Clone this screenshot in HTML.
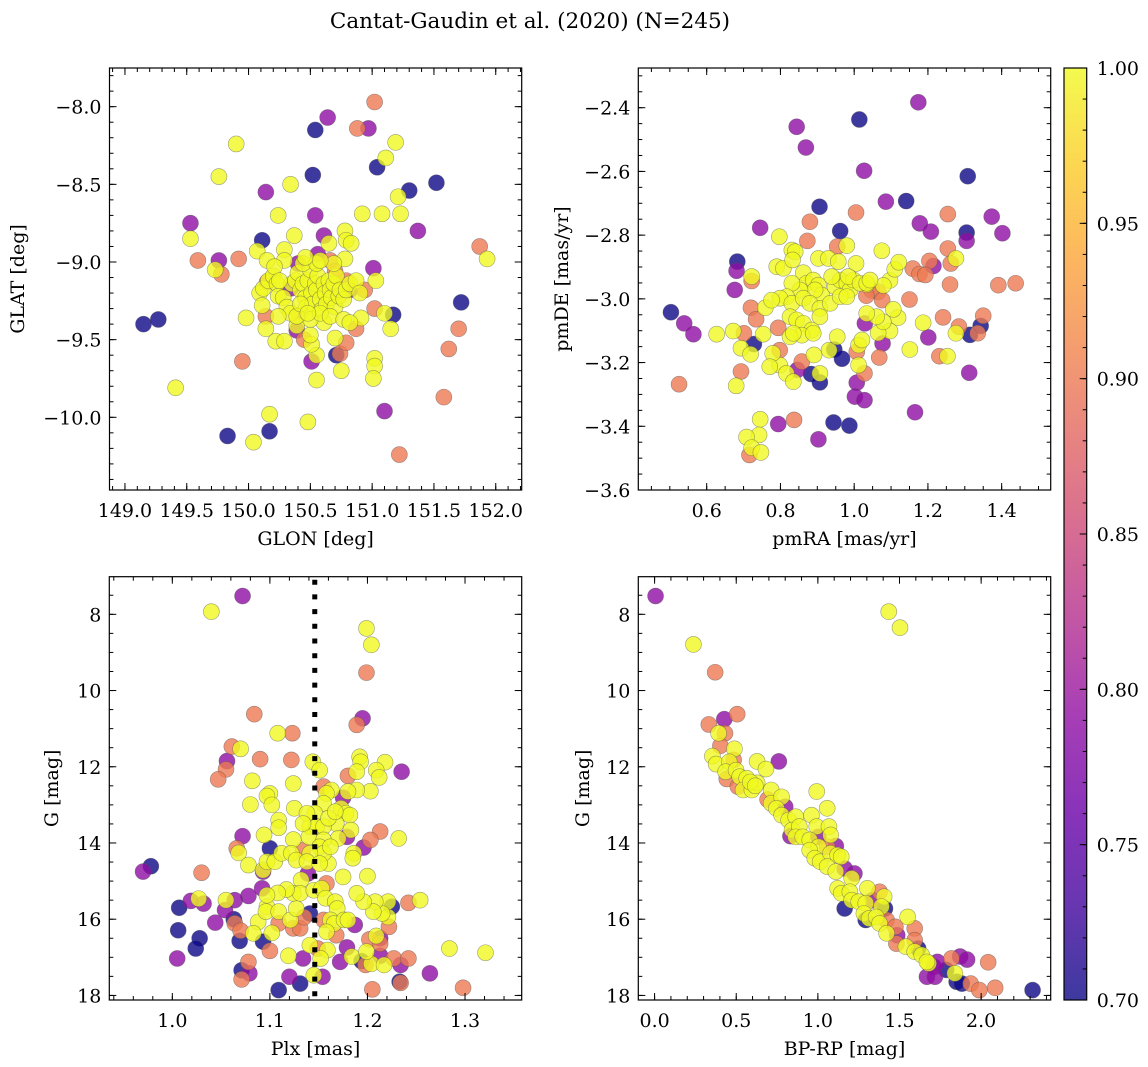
<!DOCTYPE html>
<html><head><meta charset="utf-8">
<style>
html,body{margin:0;padding:0;background:#fff;}
svg{display:block;font-family:"DejaVu Serif","Liberation Serif",serif;}
</style></head>
<body>
<svg id="fig" width="1148" height="1067" viewBox="0 0 1148 1067" xmlns="http://www.w3.org/2000/svg">
<defs>
<linearGradient id="plasmaGrad" x1="0" y1="1" x2="0" y2="0">
<stop offset="0" stop-color="#0d0887"/><stop offset="0.1" stop-color="#41049d"/><stop offset="0.2" stop-color="#6a00a8"/><stop offset="0.3" stop-color="#8f0da4"/><stop offset="0.4" stop-color="#b12a90"/><stop offset="0.5" stop-color="#cc4778"/><stop offset="0.6" stop-color="#e16462"/><stop offset="0.7" stop-color="#f2844b"/><stop offset="0.8" stop-color="#fca636"/><stop offset="0.9" stop-color="#fcce25"/><stop offset="1" stop-color="#f0f921"/>
</linearGradient>
</defs>
<text x="530" y="28" font-size="21.5" text-anchor="middle">Cantat-Gaudin et al. (2020) (N=245)</text>
</svg>
<script>
// ---------- Panel 1: GLON / GLAT ----------
const glon = [151.02,150.64,150.54,150.88,150.97,151.19,149.90,151.11,151.04,149.76,150.52,151.52,150.34,151.30,150.14,151.21,150.24,150.54,150.92,151.08,151.23,149.53,151.37,149.53,150.11,150.37,150.61,150.78,150.79,150.83,150.65,151.87,151.93,149.59,149.76,149.92,149.73,149.78,150.07,150.29,150.29,150.15,150.78,151.01,151.03,151.72,149.15,149.27,149.98,149.95,149.41,151.70,151.62,151.58,151.17,151.15,151.10,151.02,150.91,150.87,151.02,151.02,151.01,150.75,150.71,150.74,150.70,150.55,150.51,150.55,150.51,150.50,150.22,150.29,150.39,150.39,150.14,150.14,150.17,150.17,149.83,150.04,150.48,151.10,151.22,150.45,150.79,
150.09,150.12,150.11,150.16,150.20,150.23,150.24,150.28,150.31,150.34,150.35,150.38,150.40,150.42,150.44,150.46,150.47,150.48,150.50,150.51,150.52,150.54,150.55,150.56,150.58,150.59,150.61,150.62,150.63,150.65,150.66,150.67,150.69,150.70,150.71,150.73,150.74,150.77,150.79,150.82,150.87,150.90,150.61,150.50,150.39,150.24,150.58,150.66,150.77,150.82,150.44,150.55,150.69,150.46,150.58,150.21,150.25,150.42,150.48,
150.40,150.56,150.66,150.70,150.79,150.82,150.94,150.15,150.34,150.41];
const glat = [-7.97,-8.07,-8.15,-8.14,-8.14,-8.23,-8.24,-8.33,-8.39,-8.45,-8.44,-8.49,-8.50,-8.54,-8.55,-8.58,-8.70,-8.70,-8.69,-8.69,-8.69,-8.75,-8.80,-8.85,-8.86,-8.83,-8.83,-8.80,-8.86,-8.88,-8.88,-8.90,-8.98,-8.99,-8.99,-8.98,-9.05,-9.08,-8.93,-8.92,-8.99,-8.99,-8.98,-9.04,-9.12,-9.26,-9.40,-9.37,-9.36,-9.64,-9.81,-9.43,-9.56,-9.87,-9.34,-9.43,-9.33,-9.30,-9.36,-9.43,-9.62,-9.67,-9.75,-9.70,-9.60,-9.59,-9.49,-9.76,-9.64,-9.60,-9.53,-9.47,-9.51,-9.51,-9.44,-9.41,-9.43,-9.35,-9.98,-10.09,-10.12,-10.16,-10.03,-9.96,-10.24,-9.50,-9.52,
-9.20,-9.17,-9.28,-9.12,-9.09,-9.14,-9.22,-9.23,-9.29,-9.33,-9.14,-9.12,-9.07,-9.18,-9.14,-9.23,-9.29,-9.12,-9.05,-9.20,-9.27,-9.14,-9.18,-9.09,-9.24,-9.31,-9.14,-9.20,-9.27,-9.12,-9.18,-9.23,-9.14,-9.29,-9.09,-9.22,-9.18,-9.24,-9.18,-9.14,-9.12,-9.20,-9.39,-9.37,-9.35,-9.35,-9.33,-9.35,-9.37,-9.39,-9.01,-9.01,-9.01,-8.97,-8.99,-9.03,-9.12,-9.27,-9.33,
-9.01,-8.95,-8.99,-9.06,-9.12,-9.18,-9.18,-9.13,-9.17,-9.34];
const probGal = [0.9,0.79,0.7,0.9,0.79,1,1,1,0.7,1,0.7,0.7,1,0.7,0.79,1,1,0.79,1,1,1,0.79,0.79,1,0.7,1,0.79,1,1,1,1,0.9,1,0.9,0.79,0.9,1,0.9,1,1,1,1,1,0.79,1,0.7,0.7,0.7,1,0.9,1,0.9,0.9,0.9,0.7,1,1,0.9,1,0.9,1,1,1,1,0.7,0.9,1,1,0.79,1,1,1,1,1,0.79,1,1,0.9,1,0.7,0.7,1,1,0.79,0.9,0.9,0.9,
1,1,1,1,1,1,1,1,1,1,1,1,1,1,1,1,1,1,1,1,1,1,1,1,1,1,1,1,1,1,1,1,1,1,1,1,1,1,1,1,1,1,1,1,1,1,1,1,1,1,1,1,1,1,1,1,1,1,1,
0.79,0.79,0.9,0.9,0.9,0.79,0.9,0.9,0.79,0.9];

// ---------- Panel 2: pmRA / pmDE ----------
const pmra = [1.174,1.014,0.844,0.869,1.027,1.308,0.906,1.086,1.141,1.005,1.254,1.373,0.880,0.745,0.962,1.178,1.208,1.305,1.402,1.305,0.797,0.980,0.873,0.954,1.254,1.276,1.262,1.204,1.215,0.683,0.681,0.676,0.503,0.539,0.564,0.525,0.627,0.672,0.701,0.728,0.693,0.680,0.693,0.719,0.722,0.722,0.720,0.734,0.745,0.742,0.708,0.722,0.716,0.747,0.794,0.837,0.903,0.944,0.987,0.883,0.907,0.946,0.967,1.007,1.002,1.028,1.165,1.312,1.151,1.201,1.187,1.231,1.253,1.241,1.276,1.284,1.314,1.343,1.350,1.335,1.391,1.438,1.150,1.159,1.177,1.193,1.260,1.068,1.007,1.028,1.012,1.077,1.029,0.794,0.798,0.858,0.846,0.798,0.816,0.835,0.907,0.932,0.954,0.891,0.779,0.771,0.753,0.759,1.012,1.021,1.119,1.097,1.065,1.079,1.061,1.034,1.106,1.097,1.110,1.121,1.079,1.075,1.005,1.034,1.065,1.047,1.076,1.033,
0.790,0.808,0.831,0.840,0.833,0.862,0.871,0.889,0.903,0.912,0.894,0.853,0.831,0.817,0.799,0.776,0.831,0.862,0.880,0.907,0.935,0.948,0.962,0.980,0.989,0.998,0.962,0.980,0.826,0.844,0.862,0.885,0.858,0.826,0.889,0.907,0.903,0.930,0.957,0.939,0.984,1.016,1.034,1.043,0.835];
const pmde = [-2.383,-2.437,-2.46,-2.525,-2.598,-2.615,-2.711,-2.695,-2.693,-2.729,-2.734,-2.742,-2.758,-2.777,-2.787,-2.763,-2.789,-2.792,-2.794,-2.818,-2.805,-2.833,-2.818,-2.836,-2.842,-2.873,-2.889,-2.881,-2.897,-2.883,-2.912,-2.972,-3.042,-3.077,-3.111,-3.268,-3.111,-3.101,-3.108,-3.142,-3.228,-3.273,-3.155,-3.174,-2.930,-2.944,-3.028,-3.064,-3.378,-3.427,-3.434,-3.467,-3.49,-3.482,-3.393,-3.38,-3.441,-3.388,-3.398,-3.236,-3.262,-3.159,-3.188,-3.263,-3.307,-3.318,-3.356,-3.232,-3.159,-3.121,-3.075,-3.18,-3.18,-3.058,-3.108,-3.087,-3.113,-3.085,-3.053,-3.108,-2.957,-2.951,-3.002,-2.905,-2.922,-2.925,-2.955,-3.184,-3.166,-3.234,-3.208,-3.140,-3.077,-3.091,-3.161,-3.197,-3.223,-3.208,-3.234,-3.26,-3.234,-3.161,-3.119,-3.176,-3.171,-3.213,-3.111,-3.028,-3.145,-3.129,-3.059,-3.101,-3.107,-3.072,-3.056,-3.046,-3.033,-2.942,-2.907,-2.885,-2.958,-2.849,-2.889,-2.955,-2.978,-2.973,-3.004,-2.99,
-2.899,-2.904,-2.847,-2.852,-2.878,-2.918,-2.951,-2.941,-2.957,-2.988,-2.972,-2.972,-2.951,-2.993,-2.998,-3.004,-3.014,-2.998,-3.014,-3.030,-3.014,-2.962,-2.941,-2.951,-2.972,-2.941,-2.993,-2.993,-3.056,-3.066,-3.077,-3.098,-3.114,-3.119,-3.108,-3.056,-2.873,-2.873,-2.883,-2.930,-2.930,-2.951,-2.951,-2.941,-3.108];
const probPm = [0.79,0.7,0.79,0.79,0.79,0.7,0.7,0.79,0.7,0.9,0.9,0.79,0.9,0.79,0.7,0.79,0.79,0.7,0.79,0.79,1,1,0.9,0.9,0.9,1,0.9,0.9,0.79,0.7,0.79,0.79,0.7,0.79,0.79,0.9,1,1,0.9,0.7,0.9,1,1,1,1,0.9,0.9,0.9,1,1,1,1,0.9,1,0.79,0.9,0.79,0.7,0.7,0.7,0.7,0.7,0.7,0.79,0.79,0.79,0.79,0.79,1,0.79,1,0.9,1,0.9,1,0.9,0.7,0.7,0.9,0.9,0.9,0.9,0.9,0.9,0.9,0.9,0.9,0.9,0.9,0.9,1,0.79,0.79,0.9,0.9,0.9,0.79,1,1,1,1,1,1,1,1,1,1,1,1,1,1,1,1,1,1,1,1,1,1,1,1,1,1,1,0.9,0.9,0.9,0.9,
1,1,1,1,1,1,1,1,1,1,1,1,1,1,1,1,1,1,1,1,1,1,1,1,1,1,1,1,1,1,1,1,1,1,1,1,1,1,1,1,1,1,1,1,1];

// ---------- Panel 3: Plx / G ----------
const plx = [1.072,1.040,1.199,1.204,1.199,1.195,1.084,1.189,1.108,1.123,1.061,1.070,1.090,1.122,1.056,1.055,1.047,1.082,1.124,1.144,1.151,1.192,1.193,1.189,1.180,1.218,1.209,1.212,1.235,1.203,1.189,1.180,1.175,1.163,1.155,1.158,1.100,1.097,1.102,1.080,1.125,1.155,1.173,1.178,1.182,1.168,1.183,1.179,1.170,1.213,1.203,1.196,1.232,1.109,1.109,1.094,1.072,1.124,1.100,1.066,1.068,1.078,1.093,1.093,1.097,1.105,1.112,1.122,1.127,1.134,1.186,1.185,1.200,1.175,1.160,1.158,1.139,1.132,
0.978,0.970,1.030,1.092,1.078,1.064,1.055,1.054,1.032,1.027,1.019,1.007,1.006,1.028,1.024,1.005,1.044,1.063,1.064,1.070,1.069,1.093,1.100,1.078,1.071,1.071,1.079,1.088,1.083,1.097,1.096,1.109,1.102,1.109,1.119,1.120,1.131,1.109,1.134,1.121,1.124,1.131,1.135,1.127,1.141,1.124,1.131,1.117,1.108,1.097,1.145,1.153,1.157,1.167,1.169,1.155,1.162,1.166,1.158,1.168,1.176,1.187,1.180,1.141,1.149,1.159,1.152,1.145,1.154,1.179,1.172,1.184,1.194,1.198,1.204,1.199,1.202,1.209,1.213,1.213,1.213,1.217,1.227,1.242,1.234,1.233,1.234,1.205,1.264,1.298,1.284,1.321,1.254,1.242,1.222,1.221,1.225,1.221,1.215,1.208,1.206,1.196,1.189,
1.146,1.141,1.148,1.155,1.138,1.140,1.155,1.151,1.155,1.141,1.138,1.151,1.160,1.167,1.134,1.162];
const gPlx = [7.52,7.93,8.37,8.80,9.53,10.73,10.62,10.90,11.12,11.12,11.47,11.53,11.80,11.82,11.85,12.07,12.33,12.37,12.44,11.87,12.09,11.74,11.87,12.13,12.24,11.88,12.09,12.28,12.13,12.64,12.61,12.65,12.81,12.61,12.52,12.70,12.70,12.77,13.00,12.99,13.09,12.96,13.09,13.22,13.27,13.49,13.66,13.84,13.88,13.70,13.92,14.12,13.88,13.40,13.60,13.79,13.82,13.91,14.14,14.14,14.26,14.58,14.71,14.75,14.49,14.49,14.27,14.27,14.45,14.19,14.27,14.40,14.87,14.89,14.54,15.06,14.80,14.97,
14.61,14.75,14.78,15.19,15.39,15.50,15.50,15.76,15.59,15.46,15.52,15.70,16.29,16.50,16.77,17.03,16.09,16.00,16.11,16.30,16.57,16.59,16.83,17.12,17.34,17.58,17.42,16.07,16.37,15.67,15.80,15.80,16.36,16.11,16.96,17.51,17.69,17.86,17.03,16.02,16.24,16.24,15.95,15.72,15.85,15.32,15.32,15.22,15.31,15.37,15.24,15.19,15.45,15.54,15.72,16.02,16.02,16.11,16.33,16.42,16.02,16.15,16.02,16.68,16.77,16.81,17.03,17.47,17.51,16.74,17.12,16.98,17.10,17.20,17.17,16.85,16.53,16.44,16.50,16.64,16.96,17.20,17.03,17.03,17.20,17.64,17.67,17.84,17.42,17.80,16.77,16.88,15.50,15.57,16.20,15.94,15.67,15.54,15.85,15.54,15.80,15.54,15.32,
13.22,13.57,13.57,13.57,13.22,13.84,13.92,14.10,14.27,14.27,14.49,14.54,13.35,13.18,13.49,14.10];
const probPlx = [0.79,1,1,1,0.9,0.79,0.9,0.9,1,0.9,0.9,1,0.9,0.9,0.79,0.9,0.9,1,1,1,1,1,1,1,0.9,1,1,1,0.79,1,1,1,0.79,1,0.9,1,1,1,1,1,1,1,1,1,1,1,1,0.79,1,0.9,0.9,0.79,1,1,1,1,0.79,1,0.7,0.9,1,1,1,0.79,1,1,1,1,1,0.9,1,1,1,1,1,0.9,0.79,1,
0.7,0.79,0.9,0.79,0.79,0.79,1,0.79,0.79,1,0.79,0.7,0.7,0.7,0.7,0.79,0.79,0.7,0.9,0.9,0.7,0.7,0.9,0.9,0.7,0.9,0.79,1,1,1,1,1,1,0.9,1,0.79,0.7,0.7,0.79,1,0.9,0.9,0.9,1,0.7,1,1,1,1,1,1,1,1,1,1,0.9,1,1,1,0.9,1,0.79,1,1,0.9,1,1,1,0.79,0.79,0.79,1,0.7,0.9,1,1,0.9,1,0.79,0.9,0.79,1,0.9,0.9,0.79,0.7,0.9,0.9,0.79,0.9,1,1,1,0.9,0.9,1,0.7,1,1,1,1,1,1,1,
1,1,1,1,1,1,1,1,1,1,1,1,1,1,1,1];
const plxRef = 1.146;

// ---------- Panel 4: BP-RP / G ----------
const bprp = [0.006,0.238,1.434,1.503,0.371,0.506,0.427,0.332,0.392,0.431,0.403,0.489,0.354,0.377,0.761,0.628,0.682,0.484,0.457,0.435,0.442,0.499,0.521,0.564,0.510,0.542,0.596,0.628,0.993,0.714,0.692,0.714,0.778,0.800,0.746,0.778,0.821,0.864,0.961,1.057,0.842,0.886,0.993,1.068,1.078,0.832,0.864,0.907,0.950,1.003,1.003,1.057,1.110,0.950,0.981,1.014,1.078,1.121,1.143,1.057,1.110,1.164,1.224,1.207,1.121,1.143,1.196,1.303,1.164,1.207,1.250,1.293,1.335,1.378,1.406,1.411,1.389,1.282,1.314,1.293,1.357,1.378,1.421,1.475,1.550,1.593,1.421,1.486,1.481,1.539,1.593,1.614,1.593,1.636,1.678,1.711,1.732,1.786,1.668,1.717,1.818,1.871,1.914,2.043,1.839,1.850,1.882,1.936,1.989,2.086,2.315,1.668,0.586,0.617];
const gCmd = [7.52,8.79,7.93,8.35,9.52,10.62,10.75,10.89,11.12,11.12,11.45,11.53,11.72,11.93,11.86,11.86,12.06,11.82,11.87,12.13,12.32,12.09,12.26,12.30,12.52,12.61,12.61,12.42,12.65,12.61,12.86,12.96,12.79,13.05,13.09,13.27,13.40,13.31,13.27,13.09,13.66,13.57,13.57,13.57,13.79,13.82,13.84,13.84,13.92,13.84,14.10,14.10,14.08,14.19,14.40,14.49,14.27,14.32,14.36,14.62,14.75,14.67,14.80,14.93,15.19,15.32,15.28,15.19,15.72,15.50,15.54,15.58,15.50,15.28,15.41,15.72,15.67,15.85,15.98,16.02,15.94,16.11,16.02,16.20,15.94,16.24,16.37,16.42,16.64,16.72,16.55,16.77,16.85,16.94,17.16,17.25,17.12,17.33,17.51,17.51,17.03,16.98,17.06,17.13,17.42,17.64,17.69,17.69,17.86,17.80,17.86,17.12,12.40,12.50];
const probCmd = [0.79,1,1,1,0.9,0.9,0.79,0.9,1,0.9,0.9,1,1,1,0.79,1,1,0.9,1,1,0.9,1,1,1,0.9,1,1,1,1,1,0.9,1,1,0.79,1,1,1,1,1,1,1,1,1,1,1,0.79,1,1,1,0.79,1,0.9,0.79,1,1,1,1,1,1,1,1,0.79,0.79,1,1,1,1,1,0.7,1,1,1,0.79,0.9,1,0.7,1,1,1,0.7,1,1,0.9,0.9,1,0.9,1,0.79,0.9,1,0.9,0.7,1,1,1,0.79,0.79,0.7,0.79,0.79,0.9,0.79,0.79,0.9,1,0.7,0.7,0.9,0.9,0.9,0.7,1,1,1];

const cbTicks = [0.70,0.75,0.80,0.85,0.90,0.95,1.00];
const vmin = 0.70, vmax = 1.00;

// ---------- helpers ----------
const NS = "http://www.w3.org/2000/svg";
const fig = document.getElementById("fig");
const FS = 19;
const plasmaStops = [[13,8,135],[65,4,157],[106,0,168],[143,13,164],[177,42,144],[204,71,120],[225,100,98],[242,132,75],[252,166,54],[252,206,37],[240,249,33]];
function plasma(t){
  t = Math.max(0, Math.min(1, t));
  const f = t*10, i = Math.min(9, Math.floor(f)), u = f - i;
  const a = plasmaStops[i], b = plasmaStops[i+1];
  return "rgb(" + a.map((v,k)=>Math.round(v+(b[k]-v)*u)).join(",") + ")";
}
function mk(tag, attrs, parent){
  const e = document.createElementNS(NS, tag);
  for (const k in attrs) e.setAttribute(k, attrs[k]);
  (parent||fig).appendChild(e);
  return e;
}
function tickVals(min, max, step){
  const a = [];
  for (let k = Math.ceil(min/step - 1e-9); k*step <= max + 1e-9; k++) a.push(+(k*step).toFixed(6));
  return a;
}
function fmt(v, d){ const s = Math.abs(v).toFixed(d); return (v < -1e-9 ? "\u2212" : "") + s; }

function panel(cfg){
  const g = mk("g", {});
  
  
  const L = cfg.L, R = cfg.R, T = cfg.T, B = cfg.B;
  const sx = v => L + (v - cfg.xd[0]) / (cfg.xd[1] - cfg.xd[0]) * (R - L);
  const sy = cfg.invert
    ? v => T + (v - cfg.yd[0]) / (cfg.yd[1] - cfg.yd[0]) * (B - T)
    : v => B - (v - cfg.yd[0]) / (cfg.yd[1] - cfg.yd[0]) * (B - T);
  const lo = Math.min(cfg.yd[0], cfg.yd[1]), hi = Math.max(cfg.yd[0], cfg.yd[1]);
  const idx = cfg.xs.map((_, i) => i).sort((a, b) => cfg.ps[a] - cfg.ps[b]);
  const pg = mk("g", {}, g);
  
  
  idx.forEach(i => {
    const c = mk("circle", {cx: sx(cfg.xs[i]).toFixed(2), cy: sy(cfg.ys[i]).toFixed(2), r: 8,
      fill: plasma((cfg.ps[i] - vmin) / (vmax - vmin)), "fill-opacity": 0.8,
      stroke: "#505050", "stroke-opacity": 0.55, "stroke-width": 0.6}, pg);
    
    
  });
  if (cfg.vline !== undefined) {
    const l = mk("line", {x1: sx(cfg.vline), x2: sx(cfg.vline), y1: T + 3, y2: B, stroke: "#000", "stroke-width": 5, "stroke-dasharray": "5 9.7"}, g);
    
    
  }
  const tg = mk("g", {stroke: "#000", "stroke-width": 1}, g);
  
  
  tickVals(cfg.xd[0], cfg.xd[1], cfg.xminor).forEach(v => {
    const x = sx(v);
    mk("line", {x1: x, x2: x, y1: B, y2: B - 4}, tg); mk("line", {x1: x, x2: x, y1: T, y2: T + 4}, tg);
  });
  tickVals(lo, hi, cfg.yminor).forEach(v => {
    const y = sy(v);
    mk("line", {x1: L, x2: L + 4, y1: y, y2: y}, tg); mk("line", {x1: R, x2: R - 4, y1: y, y2: y}, tg);
  });
  tickVals(cfg.xd[0], cfg.xd[1], cfg.xmajor).forEach(v => {
    const x = sx(v);
    mk("line", {x1: x, x2: x, y1: B, y2: B - 7}, tg); mk("line", {x1: x, x2: x, y1: T, y2: T + 7}, tg);
    const t = mk("text", {x: x, y: B + 27, "font-size": FS, "text-anchor": "middle"}, g);
    
    
    t.textContent = fmt(v, cfg.xdec);
  });
  tickVals(lo, hi, cfg.ymajor).forEach(v => {
    const y = sy(v);
    mk("line", {x1: L, x2: L + 7, y1: y, y2: y}, tg); mk("line", {x1: R, x2: R - 7, y1: y, y2: y}, tg);
    const t = mk("text", {x: L - 8, y: y + 7, "font-size": FS, "text-anchor": "end"}, g);
    
    
    t.textContent = fmt(v, cfg.ydec);
  });
  const fr = mk("rect", {x: L, y: T, width: R - L, height: B - T, fill: "none", stroke: "#000", "stroke-width": 1.2}, g);
  
  
  const xl = mk("text", {x: (L + R) / 2, y: B + 55, "font-size": FS, "text-anchor": "middle"}, g);
  
  
  xl.textContent = cfg.xlabel;
  const yl = mk("text", {x: 0, y: 0, "font-size": FS, "text-anchor": "middle", transform: "translate(" + cfg.ylx + "," + (T + B) / 2 + ") rotate(-90)"}, g);
  
  
  yl.textContent = cfg.ylabel;
}

panel({name: "glon-glat-panel", L: 109.5, R: 521.7, T: 68, B: 490, xd: [148.875, 152.21], yd: [-10.468, -7.751],
  xs: glon, ys: glat, ps: probGal, xmajor: 0.5, xminor: 0.1, ymajor: 0.5, yminor: 0.1, xdec: 1, ydec: 1,
  xlabel: "GLON [deg]", ylabel: "GLAT [deg]", ylx: 24});
panel({name: "proper-motion-panel", L: 638.3, R: 1050.7, T: 68, B: 490, xd: [0.4145, 1.533], yd: [-3.6, -2.2754],
  xs: pmra, ys: pmde, ps: probPm, xmajor: 0.2, xminor: 0.05, ymajor: 0.2, yminor: 0.05, xdec: 1, ydec: 1,
  xlabel: "pmRA [mas/yr]", ylabel: "pmDE [mas/yr]", ylx: 568});
panel({name: "parallax-magnitude-panel", L: 109.3, R: 521.7, T: 576.7, B: 1000, xd: [0.9354, 1.3581], yd: [7.013, 18.12], invert: true,
  xs: plx, ys: gPlx, ps: probPlx, xmajor: 0.1, xminor: 0.02, ymajor: 2, yminor: 0.5, xdec: 1, ydec: 0, vline: plxRef,
  xlabel: "Plx [mas]", ylabel: "G [mag]", ylx: 58});
panel({name: "color-magnitude-panel", L: 638.3, R: 1050.7, T: 576.7, B: 1000, xd: [-0.0998, 2.426], yd: [7.013, 18.12], invert: true,
  xs: bprp, ys: gCmd, ps: probCmd, xmajor: 0.5, xminor: 0.1, ymajor: 2, yminor: 0.5, xdec: 1, ydec: 0,
  xlabel: "BP-RP [mag]", ylabel: "G [mag]", ylx: 589});

// ---------- colorbar ----------
(function(){
  const L = 1064, R = 1086.7, T = 68, B = 1000;
  const cg = mk("g", {});
  
  
  const bar = mk("rect", {x: L, y: T, width: R - L, height: B - T, fill: "url(#plasmaGrad)", "fill-opacity": 0.8}, cg);
  
  
  const sy = v => B - (v - vmin) / (vmax - vmin) * (B - T);
  tickVals(vmin, vmax, 0.01).forEach(v => {
    mk("line", {x1: R, x2: R - 4, y1: sy(v), y2: sy(v), stroke: "#000", "stroke-width": 1}, cg);
  });
  cbTicks.forEach(v => {
    const y = sy(v);
    mk("line", {x1: R, x2: R - 7, y1: y, y2: y, stroke: "#000", "stroke-width": 1}, cg);
    const t = mk("text", {x: R + 10, y: y + 7, "font-size": FS}, cg);
    
    
    t.textContent = v.toFixed(2);
  });
  const fr = mk("rect", {x: L, y: T, width: R - L, height: B - T, fill: "none", stroke: "#000", "stroke-width": 1.2}, cg);
  
  
})();
</script>
</body></html>
